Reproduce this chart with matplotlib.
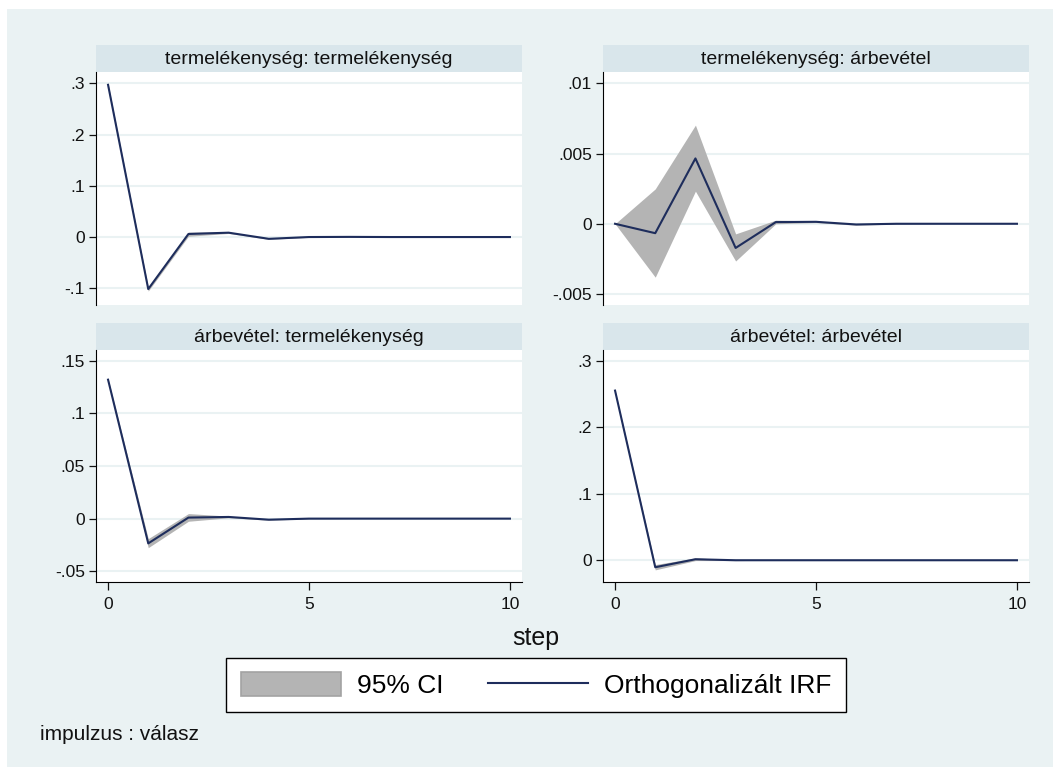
import numpy as np
import matplotlib
matplotlib.use("Agg")
import matplotlib.pyplot as plt
from matplotlib.patches import Patch, Rectangle
from matplotlib.lines import Line2D

plt.rcParams['font.family'] = ['Liberation Sans', 'DejaVu Sans']

# impulse response steps
steps = np.arange(11)

# termelékenység -> termelékenység
pp_irf = [0.297, -0.1015, 0.006, 0.0085, -0.0035, 0.0, 0.0003, 0.0, 0.0, 0.0, 0.0]
pp_lo = [0.294, -0.1055, 0.0015, 0.0070, -0.0045, -0.0006, 0.0, 0.0, 0.0, 0.0, 0.0]
pp_hi = [0.300, -0.0975, 0.0095, 0.0100, -0.0025, 0.0006, 0.0006, 0.0, 0.0, 0.0, 0.0]

# termelékenység -> árbevétel
pr_irf = [0.0, -0.00067, 0.00465, -0.00172, 0.00012, 0.00014, -0.00005, 0.0, 0.0, 0.0, 0.0]
pr_lo = [0.0, -0.0038, 0.00232, -0.00265, 0.0, 0.00008, -0.0001, -0.00002, 0.0, 0.0, 0.0]
pr_hi = [0.0, 0.00248, 0.00702, -0.00072, 0.00026, 0.0002, 0.0, 0.00002, 0.0, 0.0, 0.0]

# árbevétel -> termelékenység
rp_irf = [0.132, -0.0235, 0.001, 0.0016, -0.001, 0.0, 0.0, 0.0, 0.0, 0.0, 0.0]
rp_lo = [0.1310, -0.0276, -0.0025, 0.0008, -0.0015, -0.0002, 0.0, 0.0, 0.0, 0.0, 0.0]
rp_hi = [0.1330, -0.0190, 0.0048, 0.0024, -0.0005, 0.0002, 0.0, 0.0, 0.0, 0.0, 0.0]

# árbevétel -> árbevétel
rr_irf = [0.255, -0.0105, 0.0015, 0.0, 0.0, 0.0, 0.0, 0.0, 0.0, 0.0, 0.0]
rr_lo = [0.254, -0.0145, -0.0005, -0.0005, 0.0, 0.0, 0.0, 0.0, 0.0, 0.0, 0.0]
rr_hi = [0.256, -0.0065, 0.0035, 0.0005, 0.0, 0.0, 0.0, 0.0, 0.0, 0.0, 0.0]

titles = ["termelékenység: termelékenység", "termelékenység: árbevétel",
          "árbevétel: termelékenység", "árbevétel: árbevétel"]

pp_ticks = [-0.1, 0, 0.1, 0.2, 0.3]
pp_labels = ["-.1", "0", ".1", ".2", ".3"]
pr_ticks = [-0.005, 0, 0.005, 0.01]
pr_labels = ["-.005", "0", ".005", ".01"]
rp_ticks = [-0.05, 0, 0.05, 0.1, 0.15]
rp_labels = ["-.05", "0", ".05", ".1", ".15"]
rr_ticks = [0, 0.1, 0.2, 0.3]
rr_labels = ["0", ".1", ".2", ".3"]

x_ticks = [0, 5, 10]

BG = '#EAF2F3'
STRIP = '#D9E6EB'
NAVY = '#1E2D5C'
CIFILL = '#B4B4B4'

W, H = 1053, 767
fig = plt.figure(figsize=(W / 100, H / 100), dpi=100)
fig.patch.set_facecolor('white')
fig.add_artist(Rectangle((7 / W, 0), 1 - 7 / W, 1 - 9 / H, transform=fig.transFigure,
                         facecolor=BG, edgecolor='none', zorder=-10))


def px_axes(left, top, right, bottom):
    return fig.add_axes([left / W, 1 - bottom / H, (right - left) / W, (bottom - top) / H])


panels = [
    (96, 72, 522, 305, pp_irf, pp_lo, pp_hi, pp_ticks, pp_labels, (-0.1326, 0.322), False),
    (603, 72, 1029, 305, pr_irf, pr_lo, pr_hi, pr_ticks, pr_labels, (-0.00578, 0.0108), False),
    (96, 350, 522, 582, rp_irf, rp_lo, rp_hi, rp_ticks, rp_labels, (-0.0602, 0.1602), True),
    (603, 350, 1029, 582, rr_irf, rr_lo, rr_hi, rr_ticks, rr_labels, (-0.0327, 0.316), True),
]

for (l, t, r, b, irf, lo, hi, yt, yl, ylim, show_x), title in zip(panels, titles):
    # title strip
    sax = px_axes(l, t - 27, r, t)
    sax.set_facecolor(STRIP)
    sax.set_xticks([])
    sax.set_yticks([])
    for s in sax.spines.values():
        s.set_visible(False)
    sax.text(0.5, 0.47, title, ha='center', va='center', fontsize=14, color='#111111')

    ax = px_axes(l, t, r, b)
    ax.set_facecolor('white')
    ax.fill_between(steps, lo, hi, color=CIFILL, linewidth=0, zorder=2)
    ax.plot(steps, irf, color=NAVY, lw=1.5, zorder=3)
    ax.set_xlim(-0.3, 10.3)
    ax.set_ylim(*ylim)
    ax.set_yticks(yt)
    ax.set_yticklabels(yl)
    ax.grid(axis='y', color=BG, lw=1.5, zorder=0)
    ax.set_axisbelow(True)
    ax.spines['top'].set_visible(False)
    ax.spines['right'].set_visible(False)
    ax.spines['left'].set_color('black')
    ax.tick_params(axis='y', length=5, width=0.9, pad=3, labelsize=12.5, colors='#111111')
    if show_x:
        ax.set_xticks(x_ticks)
        ax.tick_params(axis='x', length=6, width=0.9, pad=5, labelsize=12.5, colors='#111111')
        ax.spines['bottom'].set_color('black')
    else:
        ax.set_xticks([])
        ax.spines['bottom'].set_visible(False)

fig.text(536 / W, 1 - 638 / H, "step", ha='center', va='center', fontsize=18, color='#111111')

handles = [Patch(facecolor=CIFILL, edgecolor='#A3A3A3', linewidth=1.2),
           Line2D([], [], color=NAVY, lw=1.5)]
leg = fig.legend(handles, ["95% CI", "Orthogonalizált IRF"], ncol=2, loc='center',
                 bbox_to_anchor=(536 / W, 1 - 685 / H), fontsize=19, frameon=True,
                 fancybox=False, edgecolor='black', facecolor='white', framealpha=1,
                 handlelength=3.8, handleheight=1.0, handletextpad=0.6,
                 columnspacing=1.7, borderpad=0.55, borderaxespad=0)
leg.get_frame().set_linewidth(1.0)

fig.text(40 / W, 1 - 735 / H, "impulzus : válasz", ha='left', va='center', fontsize=15,
         color='#111111')

fig.savefig("out.png", dpi=100, facecolor=fig.get_facecolor())
